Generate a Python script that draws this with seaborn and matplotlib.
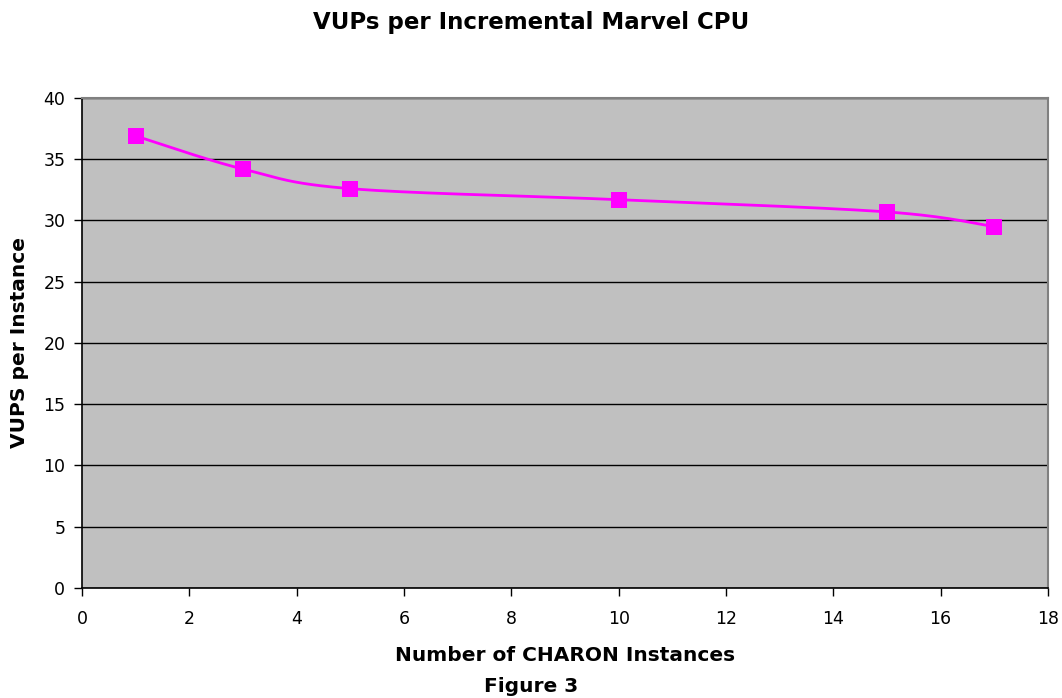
"""VUPs per incremental Marvel CPU (Figure 3), redrawn with seaborn."""

import matplotlib

matplotlib.use("Agg")
import matplotlib.pyplot as plt  # noqa: E402
import numpy as np  # noqa: E402
import seaborn as sns  # noqa: E402

INSTANCES = [1, 3, 5, 10, 15, 17]
VUPS_PER_INSTANCE = [36.9, 34.2, 32.6, 31.7, 30.7, 29.5]
X_TICKS = list(range(0, 19, 2))
Y_TICKS = list(range(0, 41, 5))

TITLE = "VUPs per Incremental Marvel CPU"
X_LABEL = "Number of CHARON Instances"
Y_LABEL = "VUPS per Instance"
CAPTION = "Figure 3"

LINE_COLOR = "#FF00FF"
PLOT_BG = "#C0C0C0"


def smooth_curve(xs, ys, steps=40):
    """Excel-style smoothed line: cubic Bezier segments with Catmull-Rom tangents."""
    pts = np.column_stack([xs, ys]).astype(float)
    n = len(pts)
    out = []
    for i in range(n - 1):
        p0 = pts[max(i - 1, 0)]
        p1 = pts[i]
        p2 = pts[i + 1]
        p3 = pts[min(i + 2, n - 1)]
        c1 = p1 + (p2 - p0) / 6.0
        c2 = p2 - (p3 - p1) / 6.0
        t = np.linspace(0, 1, steps)[:, None]
        seg = ((1 - t) ** 3) * p1 + 3 * ((1 - t) ** 2) * t * c1 + 3 * (1 - t) * t**2 * c2 + t**3 * p2
        out.append(seg if i == 0 else seg[1:])
    curve = np.vstack(out)
    return curve[:, 0], curve[:, 1]


def main() -> None:
    sns.set_theme(style="white")
    plt.rcParams["font.family"] = ["DejaVu Sans"]
    plt.rcParams["text.color"] = "black"
    plt.rcParams["axes.labelcolor"] = "black"
    plt.rcParams["xtick.color"] = "black"
    plt.rcParams["ytick.color"] = "black"

    fig = plt.figure(figsize=(10.62, 6.98), dpi=100)
    ax = fig.add_axes([0.0772, 0.1576, 0.9096, 0.702])
    ax.set_facecolor(PLOT_BG)

    cx, cy = smooth_curve(INSTANCES, VUPS_PER_INSTANCE)
    ax.plot(cx, cy, color=LINE_COLOR, linewidth=2, zorder=3)
    sns.scatterplot(
        x=INSTANCES,
        y=VUPS_PER_INSTANCE,
        marker="s",
        s=130,
        color=LINE_COLOR,
        edgecolor=LINE_COLOR,
        linewidth=0,
        ax=ax,
        zorder=4,
    )

    ax.set_xlim(0, 18)
    ax.set_ylim(0, 40)
    ax.set_xticks(X_TICKS)
    ax.set_yticks(Y_TICKS)
    ax.yaxis.grid(True, color="black", linewidth=1)
    ax.xaxis.grid(False)
    ax.set_axisbelow(True)

    for side in ("left", "bottom"):
        ax.spines[side].set_color("black")
        ax.spines[side].set_linewidth(1.2)
    for side in ("top", "right"):
        ax.spines[side].set_color("#808080")
        ax.spines[side].set_linewidth(1.5)

    ax.tick_params(axis="both", direction="out", length=6, width=1, color="black",
                   labelcolor="black", labelsize=12.5, bottom=True, left=True)
    ax.tick_params(axis="x", pad=10)
    ax.tick_params(axis="y", pad=6)

    ax.set_xlabel(X_LABEL, fontsize=14.5, fontweight="bold", labelpad=13, color="black")
    ax.set_ylabel(Y_LABEL, fontsize=14.5, fontweight="bold", labelpad=10, color="black")
    fig.text(0.5, 0.968, TITLE, ha="center", va="center", fontsize=16.5,
             fontweight="bold", color="black")
    fig.text(0.5, 0.017, CAPTION, ha="center", va="center", fontsize=14.5,
             fontweight="bold", color="black")

    fig.savefig("out.png", dpi=100)
    plt.close(fig)


if __name__ == "__main__":
    main()
